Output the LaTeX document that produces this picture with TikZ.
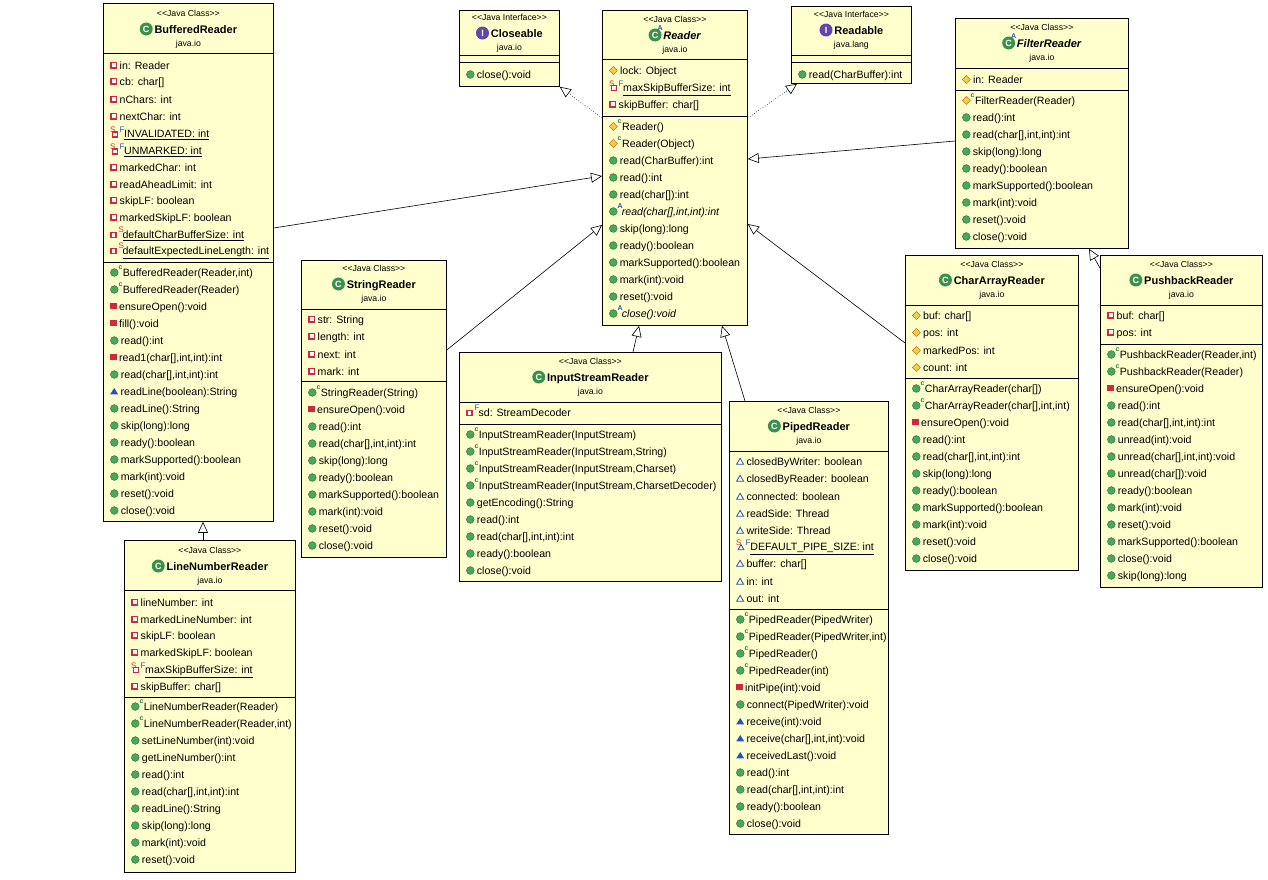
\documentclass[tikz,border=0pt]{standalone}
\usepackage{fontspec}
\setmainfont{Liberation Sans}
\usetikzlibrary{arrows.meta}

\definecolor{umlfill}{RGB}{255,255,206}
\definecolor{icgreen}{RGB}{70,170,90}
\definecolor{icred}{RGB}{210,40,60}
\definecolor{icblue}{RGB}{40,80,190}
\definecolor{icyellow}{RGB}{245,205,70}
\definecolor{icpurple}{RGB}{100,70,170}

% member icons
\newcommand\ipu{\tikz[x=1pt,y=1pt,baseline=0pt]{\fill[icgreen,draw=icgreen!60!black,line width=0.4] (4,3.9) circle (3.9);}}
\newcommand\ipm{\tikz[x=1pt,y=1pt,baseline=0pt]{\fill[icred] (0.5,0.8) rectangle (7,7.3);}}
\newcommand\ipa{\tikz[x=1pt,y=1pt,baseline=0pt]{\draw[icred,fill=white,line width=1.5] (1,1.3) rectangle (6.5,6.8);}}
\newcommand\ipt{\tikz[x=1pt,y=1pt,baseline=0pt]{\fill[icyellow,draw=orange!70!black,line width=0.4] (4,0)--(8,4)--(4,8)--(0,4)--cycle;}}
\newcommand\ipk{\tikz[x=1pt,y=1pt,baseline=0pt]{\fill[icblue] (0,0.8)--(8,0.8)--(4,7.3)--cycle;}}
\newcommand\ipka{\tikz[x=1pt,y=1pt,baseline=0pt]{\draw[icblue,line width=0.8] (0.5,1)--(7.5,1)--(4,7)--cycle;}}
\newcommand\ict{\tikz[x=1pt,y=1pt,baseline=0pt]{\fill[icgreen,draw=icgreen!60!black,line width=0.4] (4,3.9) circle (3.9);
  \node[overlay,inner sep=0,font=\fontsize{7}{7}\selectfont\bfseries,text=icgreen!70!black] at (8,9) {c};}\hspace{2pt}}
\newcommand\ictp{\tikz[x=1pt,y=1pt,baseline=0pt]{\fill[icyellow,draw=orange!70!black,line width=0.4] (4,0)--(8,4)--(4,8)--(0,4)--cycle;
  \node[overlay,inner sep=0,font=\fontsize{7}{7}\selectfont\bfseries,text=icgreen!70!black] at (8,9) {c};}\hspace{2pt}}
\newcommand\iab{\tikz[x=1pt,y=1pt,baseline=0pt]{\fill[icgreen,draw=icgreen!60!black,line width=0.4] (4,3.9) circle (3.9);
  \node[overlay,inner sep=0,font=\fontsize{7}{7}\selectfont\bfseries,text=icblue] at (8,9) {A};}\hspace{2pt}}
\newcommand\isfa{\tikz[x=1pt,y=1pt,baseline=0pt]{\node[inner sep=0,font=\fontsize{8}{8}\selectfont,text=icred] at (1.5,7.5) {S};
  \draw[icred,fill=white,line width=1.4] (4,0.8) rectangle (9,5.8);
  \node[overlay,inner sep=0,font=\fontsize{8}{8}\selectfont,text=icblue] at (11,8) {F};}\hspace{3.5pt}}
\newcommand\isfk{\tikz[x=1pt,y=1pt,baseline=0pt]{\node[inner sep=0,font=\fontsize{8}{8}\selectfont,text=icred] at (1.5,7.5) {S};
  \draw[icblue,line width=0.8] (3.5,0.8)--(9.5,0.8)--(6.5,6)--cycle;
  \node[overlay,inner sep=0,font=\fontsize{8}{8}\selectfont,text=icblue] at (11,8) {F};}\hspace{3.5pt}}
\newcommand\isa{\tikz[x=1pt,y=1pt,baseline=0pt]{\draw[icred,fill=white,line width=1.4] (1,0.8) rectangle (6,5.8);
  \node[overlay,inner sep=0,font=\fontsize{8}{8}\selectfont,text=icred] at (8.5,8.5) {S};}\hspace{3.5pt}}
\newcommand\ifa{\tikz[x=1pt,y=1pt,baseline=0pt]{\draw[icred,fill=white,line width=1.4] (1,0.8) rectangle (6,5.8);
  \node[overlay,inner sep=0,font=\fontsize{8}{8}\selectfont,text=icblue] at (8.5,8.5) {F};}\hspace{3.5pt}}
% class / interface icons
\newcommand\icls{\tikz[x=1pt,y=1pt,baseline=0pt]{\fill[icgreen!85!black] (6.5,4.2) circle (6.5);
  \node[inner sep=0,font=\fontsize{9}{9}\selectfont\bfseries,text=white] at (6.5,4.2) {C};}}
\newcommand\iclsa{\tikz[x=1pt,y=1pt,baseline=0pt]{\fill[icgreen!85!black] (6.5,4.2) circle (6.5);
  \node[inner sep=0,font=\fontsize{9}{9}\selectfont\bfseries,text=white] at (6.5,4.2) {C};
  \node[overlay,inner sep=0,font=\fontsize{7}{7}\selectfont\bfseries,text=icblue] at (11.5,11) {A};}}
\newcommand\iint{\tikz[x=1pt,y=1pt,baseline=0pt]{\fill[icpurple] (6.5,4.2) circle (6.5);
  \node[inner sep=0,font=\fontsize{9}{9}\selectfont\bfseries,text=white] at (6.5,4.2) {I};}}
\newcommand\stc{{<}{<}Java Class{>}{>}}
\newcommand\sti{{<}{<}Java Interface{>}{>}}

% header: id, y of stereotype, stereotype, name, package
\newcommand\hdr[5]{%
  \node[stereo] (#1-st) at (#1.north |- 0,#2) {#3};
  \node[cname] (#1-nm) at (#1.north |- 0,#2+16) {#4};
  \node[pkgn] (#1-pk) at (#1.north |- 0,#2+31) {#5};}
% separator line across a box
\newcommand\sep[2]{\draw (#1.west |- 0,#2) -- (#1.east |- 0,#2);}
% rows: prefix, x, y of first row, list of icon/text
\newcommand\rows[4]{%
  \foreach \ic/\t [count=\i from 0] in {#4}
    \node[row] (#1\i) at (#2,#3+17*\i) {\ic\hspace{2.5pt}\t};}

\begin{document}
\begin{tikzpicture}[x=1pt,y=-1pt,
  box/.style={draw=black,fill=umlfill,rectangle,inner sep=0,anchor=north west,line width=0.8pt},
  stereo/.style={inner sep=0,font=\fontsize{8.7}{10}\selectfont},
  cname/.style={inner sep=0,font=\fontsize{11}{12}\selectfont\bfseries},
  pkgn/.style={inner sep=0,font=\fontsize{8.7}{10}\selectfont},
  row/.style={inner sep=0,anchor=west,font=\fontsize{10.6}{12}\selectfont},
  ext/.style={-{Triangle[open,length=11pt,width=10pt]},line width=0.6pt},
  impl/.style={-{Triangle[open,length=11pt,width=10pt]},line width=0.6pt,dotted}]
\useasboundingbox (0,0) rectangle (1268,879);

% BufferedReader
\node[box,minimum width=170,minimum height=518] (buffered) at (103,3) {};
\hdr{buffered}{13}{\stc}{\icls\,BufferedReader}{java.io}
\sep{buffered}{53} \sep{buffered}{262}
\rows{buffered-a}{110}{65.5}{\ipa/in: Reader, \ipa/cb: char[], \ipa/nChars: int, \ipa/nextChar: int,
  \isfa/\underline{INVALIDATED: int}, \isfa/\underline{UNMARKED: int}, \ipa/markedChar: int,
  \ipa/readAheadLimit: int, \ipa/skipLF: boolean, \ipa/markedSkipLF: boolean,
  \isa/\underline{defaultCharBufferSize: int}, \isa/\underline{defaultExpectedLineLength: int}}
\rows{buffered-m}{110}{273.5}{{\ict/BufferedReader(Reader,int)}, \ict/BufferedReader(Reader),
  \ipm/ensureOpen():void, \ipm/fill():void, \ipu/read():int, {\ipm/read1(char[],int,int):int},
  {\ipu/read(char[],int,int):int}, \ipk/readLine(boolean):String, \ipu/readLine():String,
  \ipu/skip(long):long, \ipu/ready():boolean, \ipu/markSupported():boolean,
  \ipu/mark(int):void, \ipu/reset():void, \ipu/close():void}

% LineNumberReader
\node[box,minimum width=171,minimum height=332] (linenum) at (124,540) {};
\hdr{linenum}{550}{\stc}{\icls\,LineNumberReader}{java.io}
\sep{linenum}{590} \sep{linenum}{697}
\rows{linenum-a}{131}{602.5}{\ipa/lineNumber: int, \ipa/markedLineNumber: int, \ipa/skipLF: boolean,
  \ipa/markedSkipLF: boolean, \isfa/\underline{maxSkipBufferSize: int}, \ipa/skipBuffer: char[]}
\rows{linenum-m}{131}{707.5}{\ict/LineNumberReader(Reader), {\ict/LineNumberReader(Reader,int)},
  \ipu/setLineNumber(int):void, \ipu/getLineNumber():int, \ipu/read():int,
  {\ipu/read(char[],int,int):int}, \ipu/readLine():String, \ipu/skip(long):long,
  \ipu/mark(int):void, \ipu/reset():void}

% Closeable
\node[box,minimum width=100,minimum height=76] (closeable) at (459,10) {};
\hdr{closeable}{17}{\sti}{\iint\,Closeable}{java.io}
\sep{closeable}{55} \sep{closeable}{62}
\rows{closeable-m}{466}{75.5}{\ipu/close():void}

% Reader
\node[box,minimum width=145,minimum height=315] (reader) at (602,10) {};
\hdr{reader}{19}{\stc}{\iclsa\,\textit{Reader}}{java.io}
\sep{reader}{59} \sep{reader}{116}
\rows{reader-a}{609}{71.5}{\ipt/lock: Object, \isfa/\underline{maxSkipBufferSize: int}, \ipa/skipBuffer: char[]}
\rows{reader-m}{609}{127.5}{\ictp/Reader(), \ictp/Reader(Object), \ipu/read(CharBuffer):int,
  \ipu/read():int, \ipu/read(char[]):int, {\iab/\textit{read(char[],int,int):int}},
  \ipu/skip(long):long, \ipu/ready():boolean, \ipu/markSupported():boolean,
  \ipu/mark(int):void, \ipu/reset():void, \iab/\textit{close():void}}

% Readable
\node[box,minimum width=120,minimum height=77] (readable) at (791,6) {};
\hdr{readable}{14}{\sti}{\iint\,Readable}{java.lang}
\sep{readable}{55} \sep{readable}{62}
\rows{readable-m}{798}{75.5}{\ipu/read(CharBuffer):int}

% FilterReader
\node[box,minimum width=173,minimum height=230] (filter) at (955,18) {};
\hdr{filter}{27}{\stc}{\iclsa\,\textit{FilterReader}}{java.io}
\sep{filter}{68} \sep{filter}{90}
\rows{filter-a}{962}{79.5}{\ipt/in: Reader}
\rows{filter-m}{962}{101.5}{\ictp/FilterReader(Reader), \ipu/read():int, {\ipu/read(char[],int,int):int},
  \ipu/skip(long):long, \ipu/ready():boolean, \ipu/markSupported():boolean,
  \ipu/mark(int):void, \ipu/reset():void, \ipu/close():void}

% StringReader
\node[box,minimum width=145,minimum height=297] (string) at (301,260) {};
\hdr{string}{268}{\stc}{\icls\,StringReader}{java.io}
\sep{string}{309} \sep{string}{381}
\rows{string-a}{308}{320.5}{\ipa/str: String, \ipa/length: int, \ipa/next: int, \ipa/mark: int}
\rows{string-m}{308}{393.5}{\ict/StringReader(String), \ipm/ensureOpen():void, \ipu/read():int,
  {\ipu/read(char[],int,int):int}, \ipu/skip(long):long, \ipu/ready():boolean,
  \ipu/markSupported():boolean, \ipu/mark(int):void, \ipu/reset():void, \ipu/close():void}

% InputStreamReader
\node[box,minimum width=262,minimum height=229] (isr) at (459,352) {};
\hdr{isr}{361}{\stc}{\icls\,InputStreamReader}{java.io}
\sep{isr}{402} \sep{isr}{424}
\rows{isr-a}{466}{412.5}{\ifa/sd: StreamDecoder}
\rows{isr-m}{466}{435.5}{\ict/InputStreamReader(InputStream), {\ict/InputStreamReader(InputStream,String)},
  {\ict/InputStreamReader(InputStream,Charset)}, {\ict/InputStreamReader(InputStream,CharsetDecoder)},
  \ipu/getEncoding():String, \ipu/read():int, {\ipu/read(char[],int,int):int},
  \ipu/ready():boolean, \ipu/close():void}

% PipedReader
\node[box,minimum width=159,minimum height=433] (piped) at (729,401) {};
\hdr{piped}{410}{\stc}{\icls\,PipedReader}{java.io}
\sep{piped}{451} \sep{piped}{609}
\rows{piped-a}{736}{462.5}{\ipka/closedByWriter: boolean, \ipka/closedByReader: boolean,
  \ipka/connected: boolean, \ipka/readSide: Thread, \ipka/writeSide: Thread,
  \isfk/\underline{DEFAULT\_PIPE\_SIZE: int}, \ipka/buffer: char[], \ipka/in: int, \ipka/out: int}
\rows{piped-m}{736}{620.5}{\ict/PipedReader(PipedWriter), {\ict/PipedReader(PipedWriter,int)},
  \ict/PipedReader(), \ict/PipedReader(int), \ipm/initPipe(int):void,
  \ipu/connect(PipedWriter):void, \ipk/receive(int):void, {\ipk/receive(char[],int,int):void},
  \ipk/receivedLast():void, \ipu/read():int, {\ipu/read(char[],int,int):int},
  \ipu/ready():boolean, \ipu/close():void}

% CharArrayReader
\node[box,minimum width=173,minimum height=315] (chararray) at (905,255) {};
\hdr{chararray}{264}{\stc}{\icls\,CharArrayReader}{java.io}
\sep{chararray}{305} \sep{chararray}{378}
\rows{chararray-a}{912}{316.5}{\ipt/buf: char[], \ipt/pos: int, \ipt/markedPos: int, \ipt/count: int}
\rows{chararray-m}{912}{389.5}{\ict/CharArrayReader(char[]), {\ict/CharArrayReader(char[],int,int)},
  \ipm/ensureOpen():void, \ipu/read():int, {\ipu/read(char[],int,int):int}, \ipu/skip(long):long,
  \ipu/ready():boolean, \ipu/markSupported():boolean, \ipu/mark(int):void,
  \ipu/reset():void, \ipu/close():void}

% PushbackReader
\node[box,minimum width=162,minimum height=332] (pushback) at (1100,255) {};
\hdr{pushback}{264}{\stc}{\icls\,PushbackReader}{java.io}
\sep{pushback}{305} \sep{pushback}{344}
\rows{pushback-a}{1107}{316.5}{\ipa/buf: char[], \ipa/pos: int}
\rows{pushback-m}{1107}{355.5}{{\ict/PushbackReader(Reader,int)}, \ict/PushbackReader(Reader),
  \ipm/ensureOpen():void, \ipu/read():int, {\ipu/read(char[],int,int):int}, \ipu/unread(int):void,
  {\ipu/unread(char[],int,int):void}, \ipu/unread(char[]):void, \ipu/ready():boolean,
  \ipu/mark(int):void, \ipu/reset():void, \ipu/markSupported():boolean,
  \ipu/close():void, \ipu/skip(long):long}

% generalisations
\draw[ext] (buffered.east |- 0,228) -- (reader.west |- 0,176);
\draw[ext] (string.east |- 0,350) -- (reader.west |- 0,225);
\draw[ext] (isr.north -| 633,0) -- (reader.south -| 639,0);
\draw[ext] (piped.north -| 745,0) -- (reader.south -| 722,0);
\draw[ext] (chararray.west |- 0,343) -- (reader.east |- 0,224);
\draw[ext] (filter.west |- 0,141) -- (reader.east |- 0,159);
\draw[ext] (pushback.west |- 0,268) -- (filter.south -| 1089,0);
\draw[ext] (linenum.north -| 203,0) -- (buffered.south -| 203,0);
% realisations
\draw[impl] (reader.west |- 0,118) -- (closeable.south east);
\draw[impl] (reader.east |- 0,118) -- (readable.south -| 797,0);
\end{tikzpicture}
\end{document}
